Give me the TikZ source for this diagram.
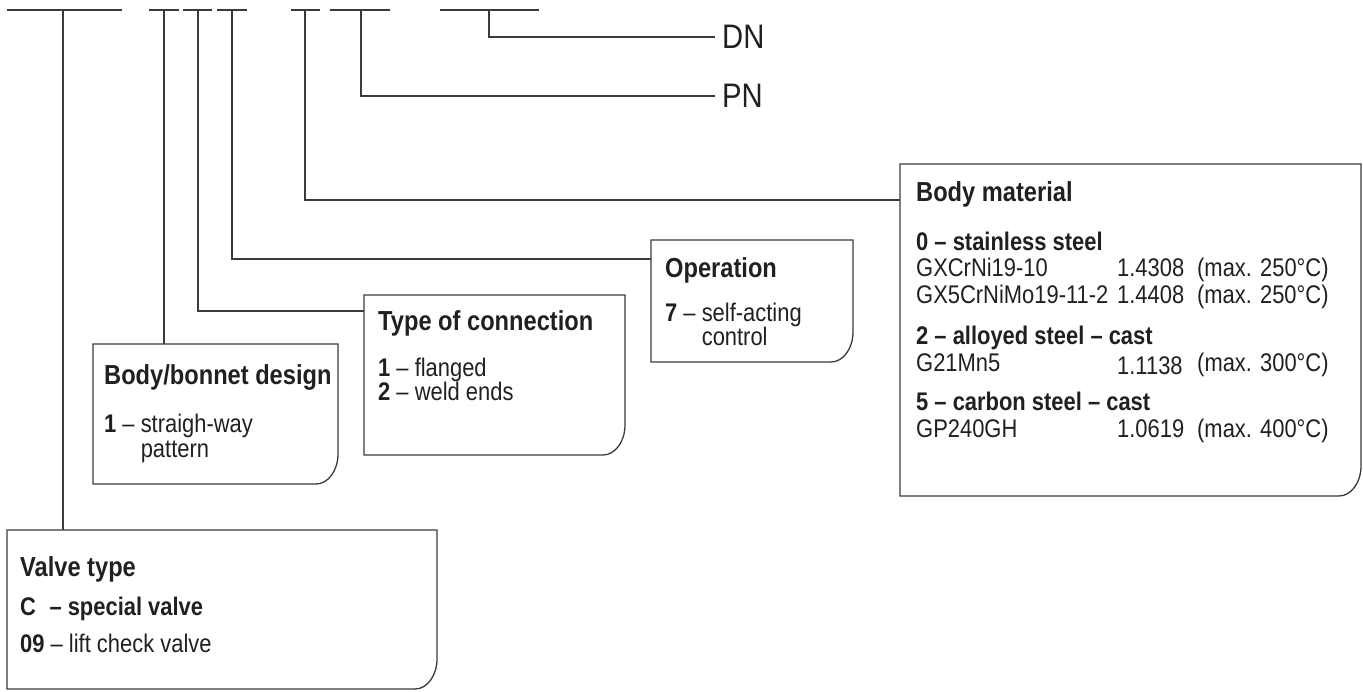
\documentclass[tikz,border=0pt]{standalone}
\usepackage{fontspec}
\setmainfont{Liberation Sans}[FakeStretch=0.86]
\definecolor{lc}{HTML}{3A3A3A}
\definecolor{tc}{HTML}{231F20}
\newcommand\cbox[5]{%
  \node[boxarea, minimum width=#4pt, minimum height=#5pt] (#1) at (#2,#3) {};
  \draw[boxline] (#1.north west) -- (#1.north east) -- ([yshift=30pt]#1.south east)
    .. controls ([yshift=13.4pt]#1.south east) and ([xshift=-9.9pt]#1.south east) ..
    ([xshift=-22pt]#1.south east) -- (#1.south west) -- cycle;}
\begin{document}
\begin{tikzpicture}[x=1pt,y=-1pt,
  boxarea/.style={anchor=north west, inner sep=0pt, outer sep=0pt, draw=none},
  boxline/.style={draw=lc, line width=1.3pt, line join=miter},
  conn/.style={draw=lc, line width=1.3pt},
  txt/.style={anchor=base west, inner sep=0pt, text=tc, font=\fontsize{25.5}{27}\selectfont},
  hd/.style={anchor=base west, inner sep=0pt, text=tc, font=\fontsize{27.5}{29}\selectfont\bfseries},
  big/.style={anchor=west, inner xsep=7pt, inner ysep=0pt, text=tc, font=\fontsize{34}{36}\selectfont}]
\useasboundingbox (0,0) rectangle (1363,692);

% code slots
\foreach \a/\b in {7/122,149/179,183/212,217/247,291/320,330/390,440/539}
  \draw[conn] (\a,10) -- (\b,10);
\coordinate (t1) at (63,10);
\coordinate (t2) at (164,10);
\coordinate (t3) at (198,10);
\coordinate (t4) at (232,10);
\coordinate (t5) at (305,10);
\coordinate (t6) at (361,10);
\coordinate (t7) at (489,10);

% boxes
\cbox{vt}{7}{530}{430}{159}
\cbox{bb}{93}{344}{245}{140}
\cbox{tc}{364}{295}{261}{160}
\cbox{op}{651}{240}{202}{122}
\cbox{bm}{900}{164}{461}{332}

% DN / PN labels
\node[big] (dn) at (715,37) {DN};
\node[big] (pn) at (715,96) {PN};

% connectors
\draw[conn] (t1) -- (t1 |- vt.north);
\draw[conn] (t2) -- (t2 |- bb.north);
\draw[conn] (t3) |- ([yshift=-16pt]tc.north west);
\draw[conn] (t4) |- ([yshift=-19pt]op.north west);
\draw[conn] (t5) |- ([yshift=-36pt]bm.north west);
\draw[conn] (t6) |- (pn.west);
\draw[conn] (t7) |- (dn.west);

% Valve type
\node[hd] (vt1) at (20,576) {Valve type};
\node[txt] (vt2) at (20,615) {\bfseries\makebox[1.15em][l]{C}– special valve};
\node[txt] (vt3) at (20,652) {\textbf{09} – lift check valve};

% Body/bonnet design
\node[hd] (bb1) at (104,385) {Body/bonnet design};
\node[txt] (bb2) at (104,432) {\textbf{1} – straigh-way};
\node[txt] (bb3) at (104,457) {\hphantom{\textbf{1} – }pattern};

% Type of connection
\node[hd] (tc1) at (378,331) {Type of connection};
\node[txt] (tc2) at (378,377) {\textbf{1} – flanged};
\node[txt] (tc3) at (378,401) {\textbf{2} – weld ends};

% Operation
\node[hd] (op1) at (665,278) {Operation};
\node[txt] (op2) at (665,322) {\textbf{7} – self-acting};
\node[txt] (op3) at (665,346) {\hphantom{\textbf{7} – }control};

% Body material
\node[hd] (bm1) at (916,202) {Body material};
\node[txt] (bm2) at (916,251) {\bfseries 0 – stainless steel};
\node[txt] (bm3) at (916,277) {\makebox[201pt][l]{GXCrNi19-10}\makebox[80pt][l]{1.4308}(max. 250°C)};
\node[txt] (bm4) at (916,304) {\makebox[201pt][l]{GX5CrNiMo19-11-2}\makebox[80pt][l]{1.4408}(max. 250°C)};
\node[txt] (bm5) at (916,345) {\bfseries 2 – alloyed steel – cast};
\node[txt] (bm6) at (916,372) {\makebox[201pt][l]{G21Mn5}\makebox[80pt][l]{\raisebox{-3pt}{1.1138}}(max. 300°C)};
\node[txt] (bm7) at (916,411) {\bfseries 5 – carbon steel – cast};
\node[txt] (bm8) at (916,438) {\makebox[201pt][l]{GP240GH}\makebox[80pt][l]{1.0619}(max. 400°C)};
\end{tikzpicture}
\end{document}
